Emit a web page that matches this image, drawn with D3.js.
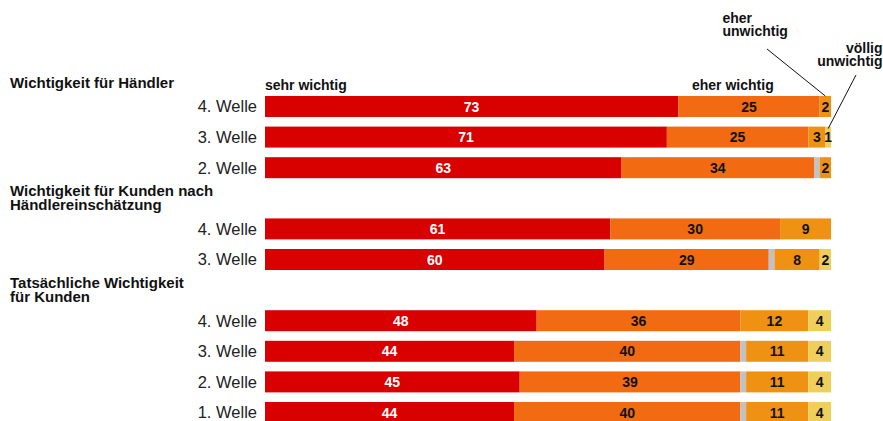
<!DOCTYPE html>
<html>
<head>
<meta charset="utf-8">
<script src="https://cdn.jsdelivr.net/npm/d3@7"></script>
<style>
body { margin: 0; background: #fff; }
text { font-family: "Liberation Sans", Arial, sans-serif; }
</style>
</head>
<body>
<div class="chart"></div>
<script>
// groups and rows (slot = vertical position, header slots are left empty)
const groupTitles = [
  ["Wichtigkeit für Händler"],
  ["Wichtigkeit für Kunden nach", "Händlereinschätzung"],
  ["Tatsächliche Wichtigkeit", "für Kunden"]
];
const groupStartSlot = [0, 4, 7];
const rowLabels = ["4. Welle", "3. Welle", "2. Welle", "4. Welle", "3. Welle", "4. Welle", "3. Welle", "2. Welle", "1. Welle"];
const rowSlots = [0, 1, 2, 4, 5, 7, 8, 9, 10];

const seriesNames = ["sehr wichtig", "eher wichtig", "weiß nicht", "eher unwichtig", "völlig unwichtig"];
const sehrWichtig = [73, 71, 63, 61, 60, 48, 44, 45, 44];
const eherWichtig = [25, 25, 34, 30, 29, 36, 40, 39, 40];
const weissNicht = [0, 0, 1, 0, 1, 0, 1, 1, 1];
const eherUnwichtig = [2, 3, 2, 9, 8, 12, 11, 11, 11];
const voelligUnwichtig = [0, 1, 0, 0, 2, 4, 4, 4, 4];

const colors = ["#d90000", "#f26b12", "#c2c2c2", "#ef9214", "#efcf5c"];
const labelColors = ["#fff", "#111", null, "#111", "#111"];

const w = 883, h = 421;
const svg = d3.select('.chart').append('svg')
  .attr('width', w).attr('height', h);

const x = d3.scaleLinear().domain([0, 100]).range([265, 831]);
const y = d3.scaleBand().domain(d3.range(11)).range([96, 423]).paddingInner(0.314).paddingOuter(0);

const table = rowLabels.map((label, i) => ({
  label, slot: rowSlots[i],
  vals: [sehrWichtig[i], eherWichtig[i], weissNicht[i], eherUnwichtig[i], voelligUnwichtig[i]]
}));

const segs = [];
table.forEach((r, i) => {
  let acc = 0;
  r.vals.forEach((v, k) => {
    if (v > 0) segs.push({ row: i, slot: r.slot, k, v, x0: acc, x1: acc + v });
    acc += v;
  });
});

svg.selectAll('rect.seg')
  .data(segs)
  .enter()
  .append('rect')
  .attr('class', 'seg')
  .attr('x', d => x(d.x0))
  .attr('width', d => x(d.x1) - x(d.x0))
  .attr('y', d => y(d.slot))
  .attr('height', y.bandwidth())
  .attr('fill', d => colors[d.k]);

svg.selectAll('text.value')
  .data(segs.filter(d => labelColors[d.k]))
  .enter()
  .append('text')
  .attr('class', 'value')
  .attr('x', d => (x(d.x0) + x(d.x1)) / 2)
  .attr('y', d => y(d.slot) + y.bandwidth() / 2)
  .attr('dy', '0.36em')
  .attr('text-anchor', 'middle')
  .attr('font-size', 14)
  .attr('font-weight', 'bold')
  .attr('fill', d => labelColors[d.k])
  .text(d => d.v);

svg.selectAll('text.row')
  .data(table)
  .enter()
  .append('text')
  .attr('class', 'row')
  .attr('x', 257)
  .attr('y', d => y(d.slot) + y.bandwidth() / 2)
  .attr('dy', '0.36em')
  .attr('text-anchor', 'end')
  .attr('font-size', 16.5)
  .attr('fill', '#222')
  .text(d => d.label);

// group headers
groupTitles.forEach((lines, g) => {
  const base = y(groupStartSlot[g]) - 8;
  lines.forEach((t, j) => {
    svg.append('text')
      .attr('x', 10)
      .attr('y', base - (lines.length - 1 - j) * 14)
      .attr('font-size', 15)
      .attr('font-weight', 'bold')
      .attr('fill', '#111')
      .text(t);
  });
});

// series annotations
function note(lines, tx, ty, anchor) {
  lines.forEach((t, j) => {
    svg.append('text')
      .attr('x', tx).attr('y', ty + j * 13.5)
      .attr('text-anchor', anchor)
      .attr('font-size', 14)
      .attr('font-weight', 'bold')
      .attr('fill', '#111')
      .text(t);
  });
}
note([seriesNames[0]], 265, 89.5, 'start');
note([seriesNames[1]], 692, 89.5, 'start');
note(["eher", "unwichtig"], 722.5, 22.5, 'start');
note(["völlig", "unwichtig"], 882.5, 52.5, 'end');

// leader lines to the small segments
const s1 = segs.find(d => d.row === 0 && d.k === 3);
const s2 = segs.find(d => d.row === 1 && d.k === 4);
svg.append('line')
  .attr('x1', 767).attr('y1', 49)
  .attr('x2', (x(s1.x0) + x(s1.x1)) / 2).attr('y2', y(s1.slot))
  .attr('stroke', '#111').attr('stroke-width', 1);
svg.append('line')
  .attr('x1', 856).attr('y1', 75)
  .attr('x2', (x(s2.x0) + x(s2.x1)) / 2).attr('y2', y(s2.slot) + 2)
  .attr('stroke', '#111').attr('stroke-width', 1);
</script>
</body>
</html>
